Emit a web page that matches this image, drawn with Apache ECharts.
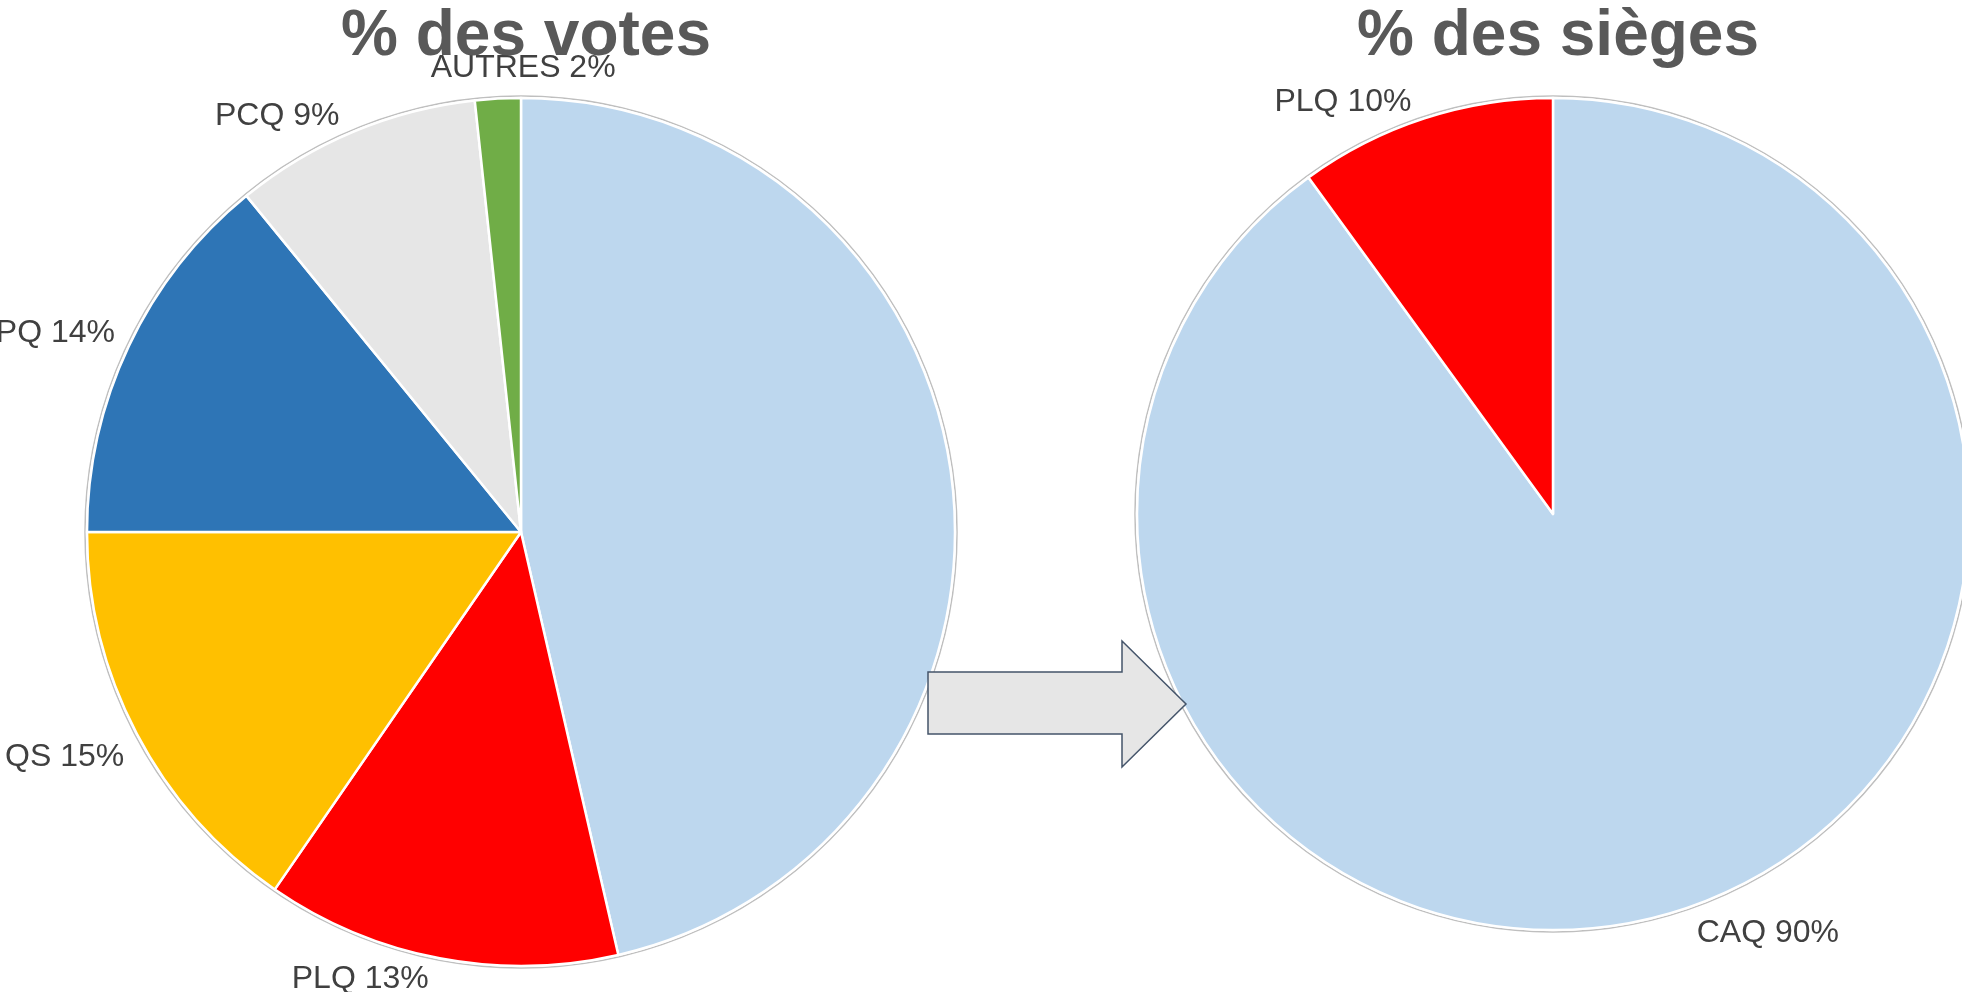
<!DOCTYPE html>
<html>
<head>
<meta charset="utf-8">
<script src="https://cdn.jsdelivr.net/npm/echarts@6/dist/echarts.min.js"></script>
<style>
  html, body { margin: 0; padding: 0; background: #fff; }
  #chart { width: 1962px; height: 992px; }
</style>
</head>
<body>
<div id="chart"></div>
<script>
// votes (left pie), clockwise from the top
const voteNames = ['CAQ', 'PLQ', 'QS', 'PQ', 'PCQ', 'AUTRES'];
const voteValues = [46.4, 13.2, 15.4, 14.1, 9.2, 1.7];
// seats (right pie)
const seatNames = ['CAQ', 'PLQ'];
const seatValues = [90, 10];

const partyColors = {
  CAQ: '#bdd7ee',
  PLQ: '#ff0000',
  QS: '#ffc000',
  PQ: '#2e75b6',
  PCQ: '#e6e6e6',
  AUTRES: '#70ad47'
};

// hand nudges for labels, like the moved labels of the original
const voteLabelShift = [[0, 0], [-64, -9], [-7, 9], [-7, 0], [-47, 12], [31, 0]];
const seatLabelShift = [[60, -5], [-56, 12]];

const leftCenter = [521, 532], leftRadius = 434;
const rightCenter = [1553, 514], rightRadius = 416;

// place each label just outside the rim, centred on the slice's mid angle
function outsideLabels(center, radius, values, gap, shift) {
  const total = values.reduce((a, b) => a + b, 0);
  let acc = 0;
  const mids = values.map(v => {
    const m = (acc + v / 2) / total * Math.PI * 2;
    acc += v;
    return m;
  });
  return function (p) {
    const a = mids[p.dataIndex];
    const ux = Math.sin(a), uy = -Math.cos(a);
    const w = p.labelRect.width, h = p.labelRect.height;
    const s = shift[p.dataIndex];
    return {
      x: center[0] + ux * (radius + gap + w / 2) + s[0],
      y: center[1] + uy * (radius + gap + h / 2) + s[1],
      align: 'center',
      verticalAlign: 'middle'
    };
  };
}

function pieData(names, values, hidden) {
  return names.map((n, i) => ({
    name: n,
    value: values[i],
    itemStyle: { color: partyColors[n] },
    label: { show: hidden.indexOf(n) < 0 }
  }));
}

const labelStyle = {
  show: true,
  position: 'outside',
  fontFamily: 'Liberation Sans',
  fontSize: 32,
  color: '#404040',
  formatter: p => p.name + ' ' + Math.round(p.percent) + '%'
};

const titleStyle = { fontFamily: 'Liberation Sans', fontSize: 64, fontWeight: 'bold', color: '#595959' };

const dom = document.getElementById('chart');
const myChart = echarts.init(dom);
const option = {
  animation: false,
  title: [
    { text: '% des votes', left: leftCenter[0], textAlign: 'center', top: 0, textStyle: titleStyle },
    { text: '% des sièges', left: rightCenter[0], textAlign: 'center', top: 0, textStyle: titleStyle }
  ],
  graphic: [
    {
      type: 'circle',
      z: 1,
      silent: true,
      shape: { cx: leftCenter[0], cy: leftCenter[1], r: leftRadius + 2 },
      style: { fill: 'none', stroke: '#bfbfbf', lineWidth: 1.5 }
    },
    {
      type: 'circle',
      z: 1,
      silent: true,
      shape: { cx: rightCenter[0], cy: rightCenter[1], r: rightRadius + 2 },
      style: { fill: 'none', stroke: '#bfbfbf', lineWidth: 1.5 }
    },
    {
      type: 'polygon',
      z: 100,
      silent: true,
      shape: {
        points: [[928, 672], [1122, 672], [1122, 641], [1186, 704], [1122, 767], [1122, 734], [928, 734]]
      },
      style: { fill: '#e6e6e6', stroke: '#44546a', lineWidth: 1.5 }
    }
  ],
  series: [
    {
      type: 'pie',
      center: leftCenter,
      radius: leftRadius,
      startAngle: 90,
      clockwise: true,
      avoidLabelOverlap: false,
      itemStyle: { borderColor: '#fff', borderWidth: 2.5 },
      label: labelStyle,
      labelLine: { show: false },
      labelLayout: outsideLabels(leftCenter, leftRadius, voteValues, 14, voteLabelShift),
      emphasis: { disabled: true },
      data: pieData(voteNames, voteValues, ['CAQ'])
    },
    {
      type: 'pie',
      center: rightCenter,
      radius: rightRadius,
      startAngle: 90,
      clockwise: true,
      avoidLabelOverlap: false,
      itemStyle: { borderColor: '#fff', borderWidth: 2.5 },
      label: labelStyle,
      labelLine: { show: false },
      labelLayout: outsideLabels(rightCenter, rightRadius, seatValues, 14, seatLabelShift),
      emphasis: { disabled: true },
      data: pieData(seatNames, seatValues, [])
    }
  ]
};
myChart.setOption(option);
</script>
</body>
</html>
